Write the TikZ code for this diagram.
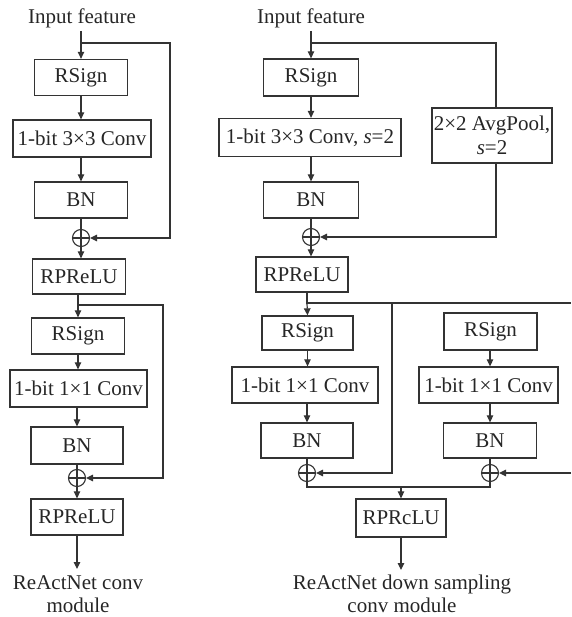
\documentclass[tikz,border=0pt]{standalone}
\usepackage{fontspec}
\setmainfont{Liberation Serif}
\usetikzlibrary{arrows.meta}
\begin{document}
\begin{tikzpicture}[x=1pt,y=-1pt,
  every node/.style={font=\fontsize{21}{23.5}\selectfont, text=black!85},
  blk/.style={draw=black!80, line width=1.3pt, inner sep=0pt, align=center},
  opl/.style={draw=black!80, line width=1.1pt, circle, inner sep=0pt, minimum size=17pt,
    path picture={\draw[line width=1.1pt,black!80] (path picture bounding box.north) -- (path picture bounding box.south)
      (path picture bounding box.west) -- (path picture bounding box.east);}},
  ln/.style={draw=black!80, line width=1.2pt},
  arr/.style={ln, -{Triangle[length=7pt,width=6.5pt]}},
  lbl/.style={align=center, inner sep=0pt}]
\useasboundingbox (0,0) rectangle (571,617);

% ---------- left module ----------
\node[lbl] (lin) at (82,18) {Input feature};
\coordinate (lintop) at (81,31);
\node[blk, minimum width=93pt, minimum height=36pt] (lrs1) at (81,77.5) {RSign};
\node[blk, minimum width=138pt, minimum height=37pt] (lconv1) at (82,138.5) {1-bit 3×3 Conv};
\node[blk, minimum width=93pt, minimum height=36pt] (lbn1) at (81,200) {BN};
\node[opl] (lp1) at (81,238) {};
\node[blk, minimum width=93pt, minimum height=35pt] (lrp1) at (79,276.5) {RPReLU};
\node[blk, minimum width=93pt, minimum height=36pt] (lrs2) at (78,336) {RSign};
\node[blk, minimum width=137pt, minimum height=37pt] (lconv2) at (78.5,388.5) {1-bit 1×1 Conv};
\node[blk, minimum width=92pt, minimum height=37pt] (lbn2) at (77,445.5) {BN};
\node[opl] (lp2) at (77,478) {};
\node[blk, minimum width=92pt, minimum height=36pt] (lrp2) at (77,517) {RPReLU};
\node[lbl] (lout) at (78,594) {ReActNet conv\\module};
\coordinate (lend) at (77,569);
\coordinate (lsk1) at (81,43);
\coordinate (lsk1r) at (170,43);
\coordinate (lsk2) at (77,305);
\coordinate (lsk2r) at (163,305);

\draw[arr] (lintop) -- (lrs1.north);
\draw[arr] (lrs1.south) -- (lrs1.south |- lconv1.north);
\draw[arr] (lrs1.south |- lconv1.south) -- (lbn1.north);
\draw[ln] (lbn1.south) -- (lp1.north);
\draw[arr] (lsk1) -- (lsk1r) -- (lsk1r |- lp1) -- (lp1.east);
\draw[arr] (lp1.south) -- (lp1.south |- lrp1.north);
\draw[arr] (lrs2.north |- lrp1.south) -- (lrs2.north);
\draw[arr] (lsk2) -- (lsk2r) -- (lsk2r |- lp2) -- (lp2.east);
\draw[arr] (lrs2.south) -- (lrs2.south |- lconv2.north);
\draw[arr] (lbn2.north |- lconv2.south) -- (lbn2.north);
\draw[ln] (lbn2.south) -- (lp2.north);
\draw[arr] (lp2.south) -- (lrp2.north);
\draw[arr] (lrp2.south) -- (lend);

% ---------- right module ----------
\node[lbl] (rin) at (311,18) {Input feature};
\coordinate (rintop) at (311,31);
\node[blk, minimum width=95pt, minimum height=37pt] (rrs1) at (311,77.5) {RSign};
\node[blk, minimum width=182pt, minimum height=38pt] (rconv1) at (310,137.5) {1-bit 3×3 Conv, \textit{s}=2};
\node[blk, minimum width=95pt, minimum height=36pt] (rbn1) at (311,200) {BN};
\node[opl] (rp1) at (311,237) {};
\node[blk, minimum width=120pt, minimum height=55pt] (rpool) at (492,135.5) {2×2 AvgPool,\\\textit{s}=2};
\node[blk, minimum width=92pt, minimum height=35pt] (rrp1) at (302,274.5) {RPReLU};
\coordinate (rsk1) at (311,43);
\coordinate (rsk1r) at (496,43);
\coordinate (rsk1b) at (496,163);

\draw[arr] (rintop) -- (rrs1.north);
\draw[arr] (rrs1.south) -- (rrs1.south |- rconv1.north);
\draw[arr] (rrs1.south |- rconv1.south) -- (rbn1.north);
\draw[ln] (rbn1.south) -- (rp1.north);
\draw[ln] (rsk1) -- (rsk1r) -- (rsk1r |- rpool.north);
\draw[arr] (rsk1b) -- (rsk1b |- rp1) -- (rp1.east);
\draw[arr] (rp1.south) -- (rp1.south |- rrp1.north);

% lower right branches
\node[blk, minimum width=91pt, minimum height=34pt] (rrs2) at (307.5,333) {RSign};
\node[blk, minimum width=146pt, minimum height=36pt] (rconv2) at (305,385) {1-bit 1×1 Conv};
\node[blk, minimum width=92pt, minimum height=35pt] (rbn2) at (307,440.5) {BN};
\node[opl] (rp2) at (307,473) {};
\node[blk, minimum width=93pt, minimum height=37pt] (rrs3) at (490.5,331.5) {RSign};
\node[blk, minimum width=139pt, minimum height=36pt] (rconv3) at (488.5,385) {1-bit 1×1 Conv};
\node[blk, minimum width=93pt, minimum height=35pt] (rbn3) at (490,440.5) {BN};
\node[opl] (rp3) at (490,473) {};
\node[blk, minimum width=90pt, minimum height=38pt] (rrpc) at (401,518) {RPRcLU};
\node[lbl] (rout) at (402,594) {ReActNet down sampling\\conv module};
\coordinate (rend) at (401,570);
\coordinate (rsplit) at (307,303);
\coordinate (redge1) at (571,303);
\coordinate (rmid) at (392,303);
\coordinate (redge2) at (571,473);
\coordinate (rmerge) at (401,487);

\draw[ln] (rsplit |- rrp1.south) -- (rsplit) -- (redge1);
\draw[arr] (rsplit) -- (rrs2.north);
\draw[arr] (rmid) -- (rmid |- rp2) -- (rp2.east);
\draw[arr] (rrs2.south) -- (rrs2.south |- rconv2.north);
\draw[arr] (rbn2.north |- rconv2.south) -- (rbn2.north);
\draw[ln] (rbn2.south) -- (rp2.north);
\draw[arr] (rrs3.south -| rp3) -- (rp3 |- rconv3.north);
\draw[arr] (rp3 |- rconv3.south) -- (rp3 |- rbn3.north);
\draw[ln] (rp3 |- rbn3.south) -- (rp3.north);
\draw[arr] (redge2) -- (rp3.east);
\draw[ln] (rp2.south) -- (rp2.south |- rmerge) -- (rp3.south |- rmerge) -- (rp3.south);
\draw[arr] (rmerge) -- (rrpc.north);
\draw[arr] (rrpc.south) -- (rend);
\end{tikzpicture}
\end{document}
